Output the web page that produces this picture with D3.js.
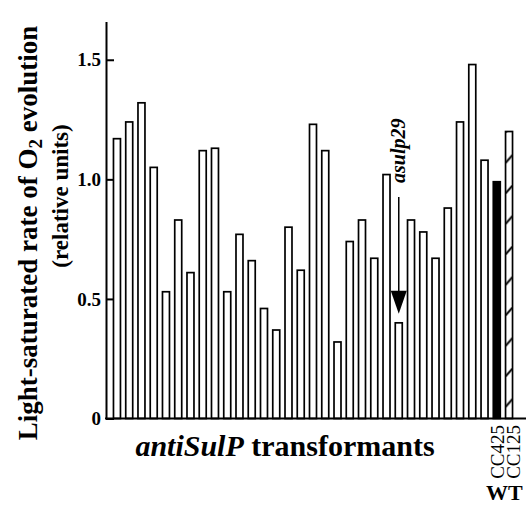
<!DOCTYPE html>
<html>
<head>
<meta charset="utf-8">
<script src="https://cdn.jsdelivr.net/npm/d3@7"></script>
<style>
  body { margin: 0; background: #fff; }
  text { font-family: "Liberation Serif", "Times New Roman", serif; }
</style>
</head>
<body>
<div id="chart"></div>
<script>
// strains: 31 antiSulP transformants, then the two wild types
var strains = d3.range(1, 32).map(function (i) { return "T" + i; }).concat(["CC425", "CC125"]);
var rates = [1.17, 1.24, 1.32, 1.05, 0.53, 0.83, 0.61, 1.12, 1.13, 0.53,
             0.77, 0.66, 0.46, 0.37, 0.80, 0.62, 1.23, 1.12, 0.32, 0.74,
             0.83, 0.67, 1.02, 0.40, 0.83, 0.78, 0.67, 0.88, 1.24, 1.48,
             1.08, 0.99, 1.20];
var barKind = d3.range(31).map(function () { return "open"; }).concat(["solid", "hatch"]);
var yTicks = [0, 0.5, 1.0, 1.5];
var wtLabels = ["CC425", "CC125"];
var markedStrain = "T24";

var W = 526, H = 506;
var svg = d3.select("#chart").append("svg")
  .attr("width", W)
  .attr("height", H);

var x = d3.scaleBand()
  .domain(strains)
  .range([106, 520])
  .paddingInner(0.43)
  .paddingOuter(0.61);

var y = d3.scaleLinear().domain([0, 1.66]).range([418.5, 21.5]);

// hatch for CC125
var hatchBar = x("CC125");
var defs = svg.append("defs");
var pat = defs.append("pattern")
  .attr("id", "hatch")
  .attr("patternUnits", "userSpaceOnUse")
  .attr("x", hatchBar)
  .attr("y", 2)
  .attr("width", x.bandwidth())
  .attr("height", 30.5);
pat.append("rect").attr("width", x.bandwidth()).attr("height", 30.5).attr("fill", "#fff");
pat.append("line")
  .attr("x1", 0).attr("y1", 8.5)
  .attr("x2", x.bandwidth()).attr("y2", 0.5)
  .attr("stroke", "#000")
  .attr("stroke-width", 2);

// bars
svg.selectAll("rect.bar")
  .data(strains)
  .enter()
  .append("rect")
  .attr("class", "bar")
  .attr("x", function (d) { return x(d); })
  .attr("y", function (d, i) { return y(rates[i]); })
  .attr("width", x.bandwidth())
  .attr("height", function (d, i) { return y(0) - y(rates[i]); })
  .attr("fill", function (d, i) {
    if (barKind[i] == "solid") return "#000";
    if (barKind[i] == "hatch") return "url(#hatch)";
    return "#fff";
  })
  .attr("stroke", "#000")
  .attr("stroke-width", 1.7);

// y axis (ticks point inward)
var yAxis = svg.append("g")
  .attr("transform", "translate(106,0)")
  .call(d3.axisLeft(y)
    .tickValues(yTicks)
    .tickSizeInner(-8)
    .tickSizeOuter(0)
    .tickPadding(5)
    .tickFormat(function (d) { return d == 0 ? "0" : d3.format(".1f")(d); }));
yAxis.select(".domain").attr("stroke-width", 2);
yAxis.selectAll(".tick line").attr("stroke-width", 2);
yAxis.selectAll(".tick text")
  .style("font-family", "'Liberation Serif', serif")
  .style("font-weight", "bold")
  .style("font-size", "19px")
  .attr("fill", "#000");

// x axis line
svg.append("line")
  .attr("x1", 105).attr("x2", W)
  .attr("y1", y(0)).attr("y2", y(0))
  .attr("stroke", "#000")
  .attr("stroke-width", 2);

// y axis title
var yTitle = svg.append("text")
  .attr("transform", "translate(37,233) rotate(-90)")
  .attr("text-anchor", "middle")
  .style("font-weight", "bold")
  .style("font-size", "27px");
yTitle.append("tspan").text("Light-saturated rate of O");
yTitle.append("tspan").attr("dy", 5).style("font-size", "19px").text("2");
yTitle.append("tspan").attr("dy", -5).text(" evolution");

svg.append("text")
  .attr("transform", "translate(68,196) rotate(-90)")
  .attr("text-anchor", "middle")
  .style("font-weight", "bold")
  .style("font-size", "23px")
  .text("(relative units)");

// x axis title
var xTitle = svg.append("text")
  .attr("x", 285)
  .attr("y", 456)
  .attr("text-anchor", "middle")
  .style("font-weight", "bold")
  .style("font-size", "30px");
xTitle.append("tspan").style("font-style", "italic").text("antiSulP");
xTitle.append("tspan").text(" transformants");

// wild type labels
var wtBase = {"CC425": 504, "CC125": 520};
svg.selectAll("text.wt")
  .data(wtLabels)
  .enter()
  .append("text")
  .attr("class", "wt")
  .attr("transform", function (d) {
    return "translate(" + wtBase[d] + ",425) rotate(-90)";
  })
  .attr("text-anchor", "end")
  .style("font-size", "19px")
  .text(function (d) { return d; });

svg.append("text")
  .attr("x", 486)
  .attr("y", 500)
  .style("font-weight", "bold")
  .style("font-size", "22px")
  .text("WT");

// asulp29 marker
var mx = x(markedStrain) + x.bandwidth() / 2;
var my = y(rates[strains.indexOf(markedStrain)]);
svg.append("text")
  .attr("transform", "translate(" + (mx + 6.5) + ",183) rotate(-90)")
  .style("font-weight", "bold")
  .style("font-style", "italic")
  .style("font-size", "20px")
  .text("asulp29");
svg.append("line")
  .attr("x1", mx).attr("x2", mx)
  .attr("y1", 197).attr("y2", my - 30)
  .attr("stroke", "#000")
  .attr("stroke-width", 1.5);
svg.append("path")
  .attr("d", "M" + (mx - 8) + "," + (my - 32) + "L" + (mx + 8) + "," + (my - 32) + "L" + mx + "," + (my - 9) + "Z")
  .attr("fill", "#000");
</script>
</body>
</html>
